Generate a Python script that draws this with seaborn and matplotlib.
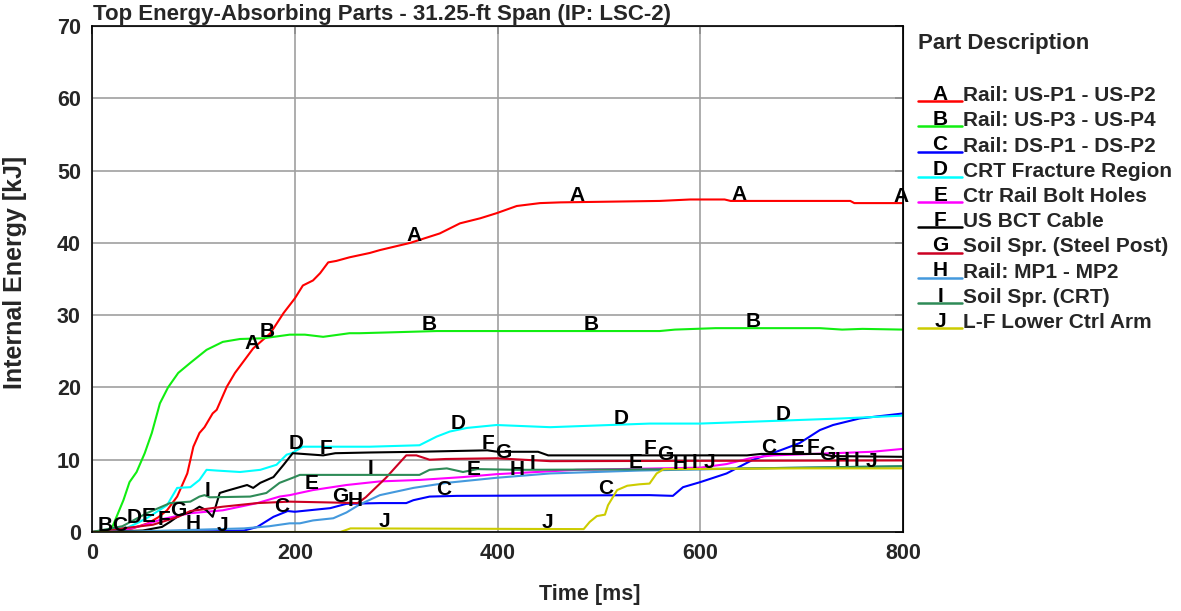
import numpy as np
import pandas as pd
import matplotlib
matplotlib.use("Agg")
import matplotlib.pyplot as plt
from matplotlib.lines import Line2D
from matplotlib.text import Text
from matplotlib.legend_handler import HandlerBase
from matplotlib.ticker import MultipleLocator
import seaborn as sns

# ---------------- data ----------------
letters = ["A", "B", "C", "D", "E", "F", "G", "H", "I", "J"]
descriptions = ["Rail: US-P1 - US-P2", "Rail: US-P3 - US-P4", "Rail: DS-P1 - DS-P2",
                "CRT Fracture Region", "Ctr Rail Bolt Holes", "US BCT Cable",
                "Soil Spr. (Steel Post)", "Rail: MP1 - MP2", "Soil Spr. (CRT)",
                "L-F Lower Ctrl Arm"]
colors = ["#ff0000", "#11ee11", "#0000ff", "#00ffff", "#ff00ff", "#000000",
          "#cc0022", "#4499dd", "#2e8b57", "#cccc00"]

t_A = [0, 20, 40, 55, 65, 74, 84, 94, 100, 106, 111, 119, 123, 133, 141, 159, 176, 189, 200, 208,
       218, 225, 233, 241, 254, 274, 284, 314, 343, 363, 383, 399, 419, 442, 462, 560, 590, 624,
       630, 748, 752, 800]
E_A = [0, 0, 0.5, 1.2, 2.0, 3.0, 4.9, 8.1, 11.8, 13.7, 14.5, 16.4, 16.9, 20.1, 22.0, 25.4, 27.5,
       30.3, 32.3, 34.1, 34.8, 35.8, 37.3, 37.5, 38.0, 38.6, 39.0, 40.0, 41.3, 42.7, 43.4, 44.1,
       45.1, 45.5, 45.6, 45.8, 46.0, 46.0, 45.8, 45.8, 45.5, 45.5]

t_B = [0, 18, 31, 37, 44, 52, 59, 67, 75, 85, 97, 113, 129, 146, 169, 195, 210, 228, 254, 264,
       290, 340, 560, 575, 615, 718, 740, 760, 800]
E_B = [0, 0, 4.4, 6.9, 8.3, 10.9, 13.7, 17.8, 20.0, 22.0, 23.4, 25.2, 26.3, 26.7, 26.8, 27.3,
       27.3, 27.0, 27.5, 27.5, 27.6, 27.8, 27.8, 28.0, 28.2, 28.2, 28.0, 28.1, 28.0]

t_C = [0, 120, 150, 163, 179, 193, 200, 235, 251, 284, 310, 317, 333, 360, 550, 573, 583, 600,
       626, 652, 679, 698, 718, 731, 757, 800]
E_C = [0, 0.1, 0.2, 0.7, 2.1, 2.9, 2.8, 3.3, 3.9, 4.0, 4.0, 4.4, 4.9, 5.0, 5.1, 5.0, 6.2, 6.9,
       8.1, 10.0, 11.3, 12.3, 14.1, 14.8, 15.7, 16.4]

t_D = [0, 20, 35, 47, 55, 64, 74, 84, 97, 106, 113, 123, 146, 166, 182, 192, 197, 208, 274, 323,
       340, 353, 370, 399, 452, 550, 600, 738, 800]
E_D = [0, 0.3, 0.6, 1.4, 2.0, 2.8, 3.7, 6.1, 6.2, 7.2, 8.6, 8.5, 8.3, 8.6, 9.3, 10.7, 10.9, 11.8,
       11.8, 12.0, 13.2, 13.9, 14.4, 14.8, 14.5, 15.0, 15.0, 15.7, 16.1]

t_E = [0, 30, 50, 70, 97, 129, 163, 185, 195, 218, 251, 284, 323, 366, 399, 478, 600, 626, 652,
       672, 770, 800]
E_E = [0, 0.2, 0.9, 1.8, 2.6, 3.0, 4.0, 4.9, 5.1, 5.8, 6.5, 7.0, 7.2, 7.6, 8.0, 8.6, 8.9, 9.4,
       10.3, 10.6, 11.1, 11.5]

t_F = [0, 50, 69, 77, 87, 97, 106, 113, 119, 126, 133, 153, 159, 166, 179, 189, 198, 228, 240,
       274, 323, 390, 400, 440, 450, 646, 660, 720, 730, 800]
E_F = [0, 0.2, 0.7, 1.4, 2.4, 2.7, 3.5, 3.0, 2.1, 5.4, 5.7, 6.5, 6.1, 6.8, 7.6, 9.3, 10.9, 10.6,
       10.9, 11.0, 11.1, 11.3, 11.1, 11.1, 10.6, 10.6, 10.8, 10.8, 10.5, 10.4]

t_G = [0, 30, 60, 85, 97, 129, 163, 195, 230, 262, 270, 290, 310, 320, 333, 349, 399, 452, 800]
E_G = [0, 0.5, 1.0, 2.1, 2.9, 3.5, 4.0, 4.2, 4.1, 4.0, 4.8, 7.5, 10.6, 10.6, 10.0, 10.1, 10.2,
       9.8, 9.9]

t_H = [0, 50, 100, 150, 175, 195, 205, 218, 238, 251, 264, 284, 317, 350, 399, 452, 540, 650, 800]
E_H = [0, 0.1, 0.3, 0.5, 0.8, 1.2, 1.2, 1.6, 1.9, 2.7, 3.8, 5.1, 6.1, 6.8, 7.5, 8.1, 8.5, 8.8, 9.1]

t_I = [0, 30, 54, 77, 97, 106, 111, 116, 156, 172, 185, 198, 205, 323, 333, 350, 366, 380, 420,
       600, 800]
E_I = [0, 0.8, 2.6, 4.0, 4.2, 4.9, 5.1, 4.8, 4.9, 5.4, 6.8, 7.5, 7.9, 7.9, 8.6, 8.8, 8.3, 8.7,
       8.6, 8.7, 9.1]

t_J = [0, 245, 255, 485, 491, 498, 506, 509, 518, 528, 540, 550, 557, 564, 700, 800]
E_J = [0, 0, 0.5, 0.4, 1.4, 2.2, 2.4, 3.7, 5.8, 6.4, 6.6, 6.7, 8.1, 8.7, 8.8, 8.8]

x_ticks = [0, 200, 400, 600, 800]
y_ticks = [0, 10, 20, 30, 40, 50, 60, 70]

series_t = [t_A, t_B, t_C, t_D, t_E, t_F, t_G, t_H, t_I, t_J]
series_E = [E_A, E_B, E_C, E_D, E_E, E_F, E_G, E_H, E_I, E_J]

frames = []
for L, tt, ee in zip(letters, series_t, series_E):
    frames.append(pd.DataFrame({"Time": tt, "Energy": ee, "Part": L}))
df = pd.concat(frames, ignore_index=True)

# ---------------- style ----------------
sns.set_style("white")
plt.rcParams["font.family"] = ["Liberation Sans", "DejaVu Sans"]
plt.rcParams["font.weight"] = "bold"

W, H = 1181, 611
fig = plt.figure(figsize=(W / 100, H / 100), dpi=100)
ax = fig.add_axes([92 / W, 79 / H, 811 / W, 506 / H])

sns.lineplot(data=df, x="Time", y="Energy", hue="Part", hue_order=letters,
             palette=dict(zip(letters, colors)), estimator=None, sort=False,
             linewidth=1.5, legend=False, ax=ax)

ax.set_xlim(0, 800)
ax.set_ylim(0, 70)
ax.set_xticks(x_ticks)
ax.set_yticks(y_ticks)
ax.xaxis.set_minor_locator(MultipleLocator(100))
ax.yaxis.set_minor_locator(MultipleLocator(5))
ax.grid(True, which="major", color="#a0a0a0", linewidth=1.2)
ax.set_axisbelow(True)
for s in ax.spines.values():
    s.set_color("black")
    s.set_linewidth(1.2)
ax.tick_params(which="major", direction="inout", length=10, width=1.2, color="black",
               labelsize=15.5, pad=3)
ax.tick_params(which="minor", direction="in", length=6, width=1.2, color="black")
for lab in ax.get_xticklabels() + ax.get_yticklabels():
    lab.set_fontweight("bold")

# inward ticks on the top and right frame
sec_r = ax.secondary_yaxis("right")
sec_r.set_yticks(y_ticks)
sec_r.tick_params(direction="in", length=6, width=1.2, labelright=False)
sec_t = ax.secondary_xaxis("top")
sec_t.set_xticks(x_ticks)
sec_t.tick_params(direction="in", length=6, width=1.2, labeltop=False)

ax.set_xlabel("Time [ms]", fontsize=15.5, fontweight="bold")
ax.set_ylabel("Internal Energy [kJ]", fontsize=18, fontweight="bold")
ax.xaxis.set_label_coords((590 - 92) / 811, -(584 - 532) / 506)
ax.yaxis.set_label_coords(-(92 - 27) / 811, (532 - 272) / 506)

fig.text(93 / W, 1 - 20 / H, "Top Energy-Absorbing Parts - 31.25-ft Span (IP: LSC-2)",
         fontsize=16, fontweight="bold", ha="left", va="baseline")

# ---------------- curve letter labels ----------------
for k, (L, tt, ee) in enumerate(zip(letters, series_t, series_E)):
    off = 14.55 * k - 2
    tk = off
    while tk <= 800.5:
        if tk >= 0:
            yk = np.interp(tk, tt, ee)
            ax.annotate(L, (tk, yk), xytext=(0, 1), textcoords="offset pixels",
                        ha="center", va="baseline", fontsize=15, fontweight="bold",
                        color="black", annotation_clip=False)
        tk += 160

# ---------------- legend ----------------
class LetterHandler(HandlerBase):
    def __init__(self, letter, color):
        super().__init__()
        self.letter = letter
        self.color = color

    def create_artists(self, legend, orig_handle, xdescent, ydescent, width, height,
                       fontsize, trans):
        x0 = -xdescent
        line = Line2D([x0, x0 + width], [0, 0], color=self.color, linewidth=1.8,
                      transform=trans)
        txt = Text(x0 + width / 2, 1, self.letter, ha="center", va="baseline",
                   fontsize=fontsize, fontweight="bold", color="black", transform=trans)
        return [line, txt]

handles = [Line2D([], [], color=c) for c in colors]
handler_map = {h: LetterHandler(L, c) for h, L, c in zip(handles, letters, colors)}
leg = ax.legend(handles, descriptions, handler_map=handler_map, loc="upper left",
                bbox_to_anchor=(918 / W, 1 - 86 / H), bbox_transform=fig.transFigure,
                frameon=False, fontsize=15, handlelength=2.12, handletextpad=0.05,
                labelspacing=0.3, borderpad=0, borderaxespad=0)
for t in leg.get_texts():
    t.set_fontweight("bold")

fig.text(918 / W, 1 - 44 / H, "Part Description", fontsize=16, fontweight="bold",
         ha="left", va="center")

fig.savefig("out.png", dpi=100)
